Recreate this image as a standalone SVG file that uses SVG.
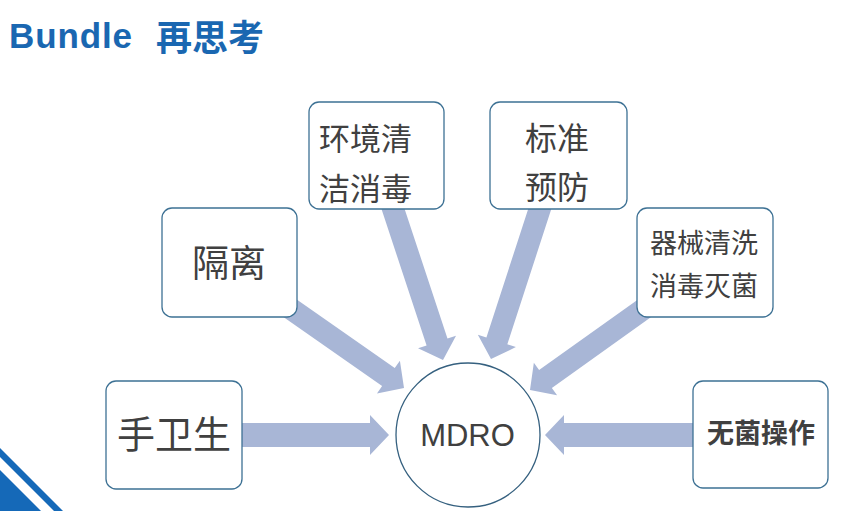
<svg xmlns="http://www.w3.org/2000/svg" width="852" height="511" viewBox="0 0 852 511">
<style>
.box{fill:#fff;stroke:#3d7194;stroke-width:1.3}
.arr{fill:#a8b6d6}
.t{font-family:"Noto Sans CJK SC","Liberation Sans",sans-serif;fill:#404040}
</style>
<rect width="852" height="511" fill="#fff"/>
<g id="title">
<text x="9" y="48" font-family="Liberation Sans,Arial,sans-serif" font-weight="bold" font-size="35" fill="#1a67b1" textLength="123">Bundle</text>
<text x="156" y="51" font-family="Noto Sans CJK SC,sans-serif" font-weight="bold" font-size="36" fill="#1a67b1">再思考</text>
</g>
<g id="corner">
<polygon points="0,448 63,511 54,511 0,457" fill="#1569b8"/>
<polygon points="0,470 41,511 0,511" fill="#1569b8"/>
</g>
<g id="connectors">
<polygon class="arr" transform="translate(389,435)" points="-159,-12 -19,-12 -19,-20 0,0 -19,20 -19,12 -159,12"/>
<polygon class="arr" transform="translate(545,435) rotate(180)" points="-160,-12 -19,-12 -19,-20 0,0 -19,20 -19,12 -160,12"/>
<polygon class="arr" transform="translate(404,388) rotate(35)" points="-150,-11 -19,-11 -19,-20 0,0 -19,20 -19,11 -150,11"/>
<polygon class="arr" transform="translate(443,360) rotate(71.7)" points="-170,-11 -19,-11 -19,-20 0,0 -19,20 -19,11 -170,11"/>
<polygon class="arr" transform="translate(491,359) rotate(108)" points="-170,-11 -19,-11 -19,-20 0,0 -19,20 -19,11 -170,11"/>
<polygon class="arr" transform="translate(530,390) rotate(144.5)" points="-150,-11 -19,-11 -19,-20 0,0 -19,20 -19,11 -150,11"/>
</g>
<g id="node-mdro">
<circle cx="468" cy="435" r="72" fill="#fff" stroke="#35607f" stroke-width="1.3"/>
<text x="467.5" y="446" font-family="Liberation Sans,Arial,sans-serif" font-size="31" fill="#404040" text-anchor="middle">MDRO</text>
</g>
<g id="node-hand">
<rect class="box" x="106" y="381" width="136" height="108" rx="10"/>
<text class="t" x="174" y="448" font-size="38" text-anchor="middle">手卫生</text>
</g>
<g id="node-isolation">
<rect class="box" x="162" y="208" width="135" height="109" rx="10"/>
<text class="t" x="229" y="277" font-size="37" text-anchor="middle">隔离</text>
</g>
<g id="node-env">
<rect class="box" x="309" y="102" width="135" height="107" rx="10"/>
<text class="t" x="319" y="150" font-size="31">环境清</text>
<text class="t" x="319" y="200" font-size="31">洁消毒</text>
</g>
<g id="node-standard">
<rect class="box" x="490" y="102" width="137" height="107" rx="10"/>
<text class="t" x="557" y="150" font-size="32" text-anchor="middle">标准</text>
<text class="t" x="557" y="199" font-size="32" text-anchor="middle">预防</text>
</g>
<g id="node-instrument">
<rect class="box" x="637" y="208" width="136" height="109" rx="10"/>
<text class="t" x="704" y="253" font-size="27" text-anchor="middle">器械清洗</text>
<text class="t" x="704" y="296" font-size="27" text-anchor="middle">消毒灭菌</text>
</g>
<g id="node-aseptic">
<rect class="box" x="693" y="381" width="135" height="107" rx="10"/>
<text class="t" x="761" y="443" font-size="27" font-weight="bold" text-anchor="middle">无菌操作</text>
</g>
</svg>
